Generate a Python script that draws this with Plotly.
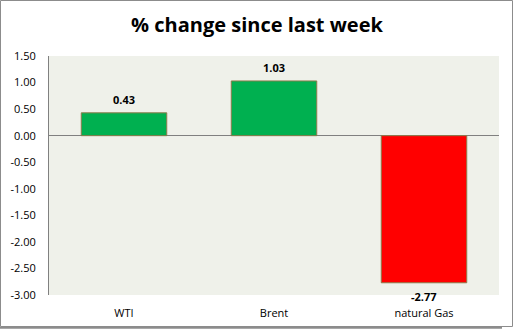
import plotly.graph_objects as go

categories = ["WTI", "Brent", "natural Gas"]
values = [0.43, 1.03, -2.77]
labels = ["0.43", "1.03", "-2.77"]
colors = ["#00B050", "#00B050", "#FF0000"]
tick_vals = [1.5, 1.0, 0.5, 0.0, -0.5, -1.0, -1.5, -2.0, -2.5, -3.0]
tick_text = ["1.50", "1.00", "0.50", "0.00", "-0.50", "-1.00", "-1.50", "-2.00", "-2.50", "-3.00"]

W, H = 514, 329
L, R, T, B = 49, 15, 56, 34
pw, ph = W - L - R, H - T - B

def px(x):
    return (x - L) / pw

def py(y):
    return 1 - (y - T) / ph

fig = go.Figure()
fig.add_trace(go.Bar(
    x=categories, y=values,
    marker=dict(color=colors, line=dict(color="#8C7B4B", width=1)),
    width=0.57,
    cliponaxis=False,
))

annotations = []
for c, v, t in zip(categories, values, labels):
    annotations.append(dict(
        x=c, y=v, xref="x", yref="y", text="<b>%s</b>" % t, showarrow=False,
        yanchor="middle", yshift=13 if v >= 0 else -14,
        font=dict(family="Open Sans", size=11, color="#000000"),
    ))

fig.update_layout(
    width=W, height=H,
    margin=dict(l=L, r=R, t=T, b=B),
    paper_bgcolor="white",
    plot_bgcolor="#EFF1EA",
    showlegend=False,
    annotations=annotations,
    title=dict(text="<b>% change since last week</b>", x=0.5, xref="container", xanchor="center",
               y=1 - 25 / H, yanchor="middle",
               font=dict(family="Open Sans", size=20, color="#000000")),
    font=dict(family="Open Sans", size=11, color="#000000"),
    xaxis=dict(showgrid=False, showline=False, ticks="", tickfont=dict(size=11),
               ticklabelstandoff=10, automargin=False),
    yaxis=dict(range=[-3.0, 1.5], tickvals=tick_vals, ticktext=tick_text,
               showgrid=False, zeroline=True, zerolinecolor="#808080", zerolinewidth=1,
               showline=True, linecolor="#808080", linewidth=1, ticks="",
               ticklabelstandoff=10, tickfont=dict(size=11), automargin=False),
    shapes=[
        dict(type="rect", xref="paper", yref="paper",
             x0=px(0.5), x1=px(512.5), y0=py(326.5), y1=py(0.5),
             line=dict(color="#8C8C8C", width=1), fillcolor="rgba(0,0,0,0)", layer="above"),
        dict(type="line", xref="paper", yref="paper",
             x0=px(0), x1=px(502), y0=py(327.8), y1=py(327.8),
             line=dict(color="#8C8C8C", width=2)),
    ],
)

fig.write_html("out.html")
